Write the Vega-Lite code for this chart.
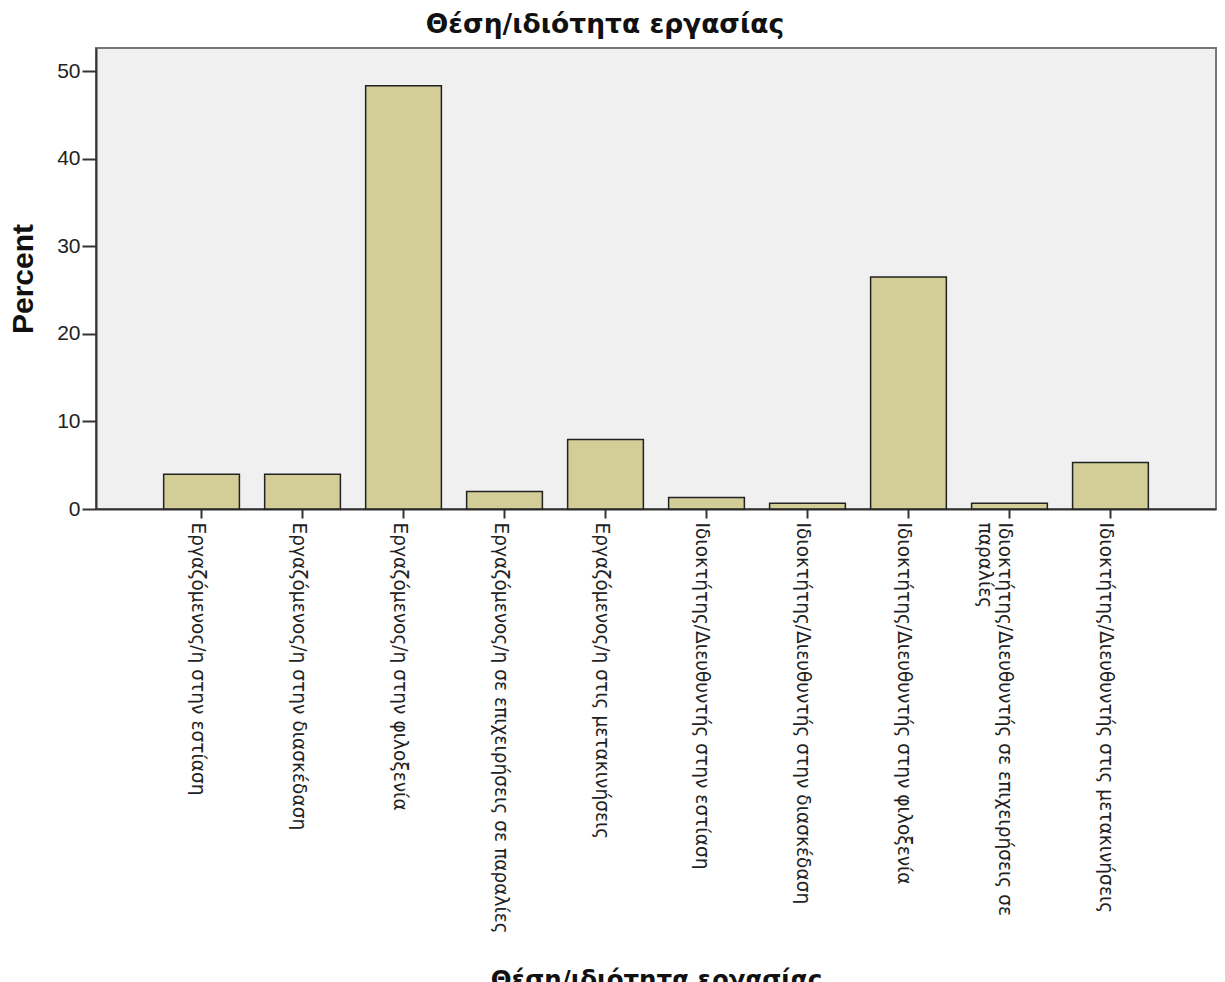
{
  "$schema": "https://vega.github.io/schema/vega-lite/v6.json",
  "width": 1120,
  "height": 461,
  "autosize": {"type": "none"},
  "padding": {"left": 96, "top": 48, "right": 9, "bottom": 520},
  "background": "white",
  "title": {
    "text": "Θέση/ιδιότητα εργασίας",
    "font": "DejaVu Sans",
    "fontSize": 26.5,
    "fontWeight": "bold",
    "color": "#111",
    "anchor": "middle",
    "frame": "group",
    "dx": -51,
    "offset": 10
  },
  "data": {
    "values": [
      {"category": "Εργαζόμενος/η στην εστίαση", "percent": 3.97},
      {"category": "Εργαζόμενος/η στην διασκέδαση", "percent": 3.97},
      {"category": "Εργαζόμενος/η στην φιλοξενία", "percent": 48.34},
      {"category": "Εργαζόμενος/η σε επιχειρήσεις σε παραλίες", "percent": 1.99},
      {"category": "Εργαζόμενος/η στις μετακινήσεις", "percent": 7.95},
      {"category": "Ιδιοκτήτης/Διευθυντής στην εστίαση", "percent": 1.32},
      {"category": "Ιδιοκτήτης/Διευθυντής στην διασκέδαση", "percent": 0.66},
      {"category": "Ιδιοκτήτης/Διευθυντής στην φιλοξενία", "percent": 26.49},
      {"category": "Ιδιοκτήτης/Διευθυντής σε επιχειρήσεις σε παραλίες", "percent": 0.66},
      {"category": "Ιδιοκτήτης/Διευθυντής στις μετακινήσεις", "percent": 5.3}
    ]
  },
  "mark": {"type": "bar", "fill": "#D3CE97", "stroke": "#222", "strokeWidth": 1.5},
  "encoding": {
    "x": {
      "field": "category",
      "type": "nominal",
      "sort": null,
      "scale": {"paddingInner": 0.25, "paddingOuter": 0.67},
      "axis": {
        "title": "Θέση/ιδιότητα εργασίας",
        "labelAngle": 90,
        "labelAlign": "left",
        "labelBaseline": "middle",
        "labelFont": "DejaVu Sans",
        "labelFontSize": 18.6,
        "labelLimit": 0,
        "labelPadding": 4,
        "labelOffset": -4,
        "tickSize": 9,
        "labelExpr": "datum.label == 'Ιδιοκτήτης/Διευθυντής σε επιχειρήσεις σε παραλίες' ? ['Ιδιοκτήτης/Διευθυντής σε επιχειρήσεις σε', 'παραλίες'] : datum.label",
        "titleFont": "DejaVu Sans",
        "titleFontSize": 24.5,
        "titleBaseline": "top",
        "titleY": 459
      }
    },
    "y": {
      "field": "percent",
      "type": "quantitative",
      "scale": {"domain": [0, 52.65], "nice": false},
      "axis": {
        "title": "Percent",
        "values": [0, 10, 20, 30, 40, 50],
        "labelFontSize": 21,
        "tickSize": 14,
        "labelPadding": 2,
        "titleFontSize": 30,
        "titlePadding": 18,
        "grid": false
      }
    }
  },
  "config": {
    "font": "Liberation Sans",
    "view": {"fill": "#F0F0F0", "stroke": "#777", "strokeWidth": 2},
    "axis": {
      "domainColor": "#333",
      "domainWidth": 2,
      "tickColor": "#333",
      "tickWidth": 2,
      "labelColor": "#222",
      "labelFont": "Liberation Sans",
      "titleFont": "Liberation Sans",
      "titleFontWeight": "bold",
      "titleColor": "#111"
    }
  }
}
